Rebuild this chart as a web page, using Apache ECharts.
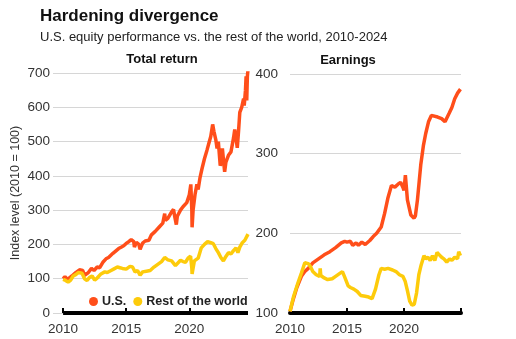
<!DOCTYPE html>
<html>
<head>
<meta charset="utf-8">
<script src="https://cdn.jsdelivr.net/npm/echarts@6/dist/echarts.min.js"></script>
<style>
html,body{margin:0;padding:0;background:#fff;}
#c{width:516px;height:339px;}
</style>
</head>
<body>
<div id="c"></div>
<script>
// ---- Data ----
const seriesNames = ['U.S.', 'Rest of the world'];
const xTickLabels = [2010, 2015, 2020];

// Total return, U.S.
const trUsYears = [2010.0,2010.15,2010.35,2010.5,2010.7,2011.0,2011.3,2011.55,2011.7,2011.8,2012.0,2012.25,2012.45,2012.7,2012.9,2013.15,2013.4,2013.6,2013.95,2014.1,2014.4,2014.6,2014.8,2015.0,2015.2,2015.4,2015.6,2015.65,2015.8,2016.0,2016.1,2016.3,2016.5,2016.8,2017.0,2017.3,2017.6,2017.9,2018.05,2018.1,2018.3,2018.6,2018.75,2018.85,2018.97,2019.05,2019.3,2019.5,2019.6,2019.8,2020.0,2020.12,2020.2,2020.22,2020.3,2020.45,2020.6,2020.7,2020.85,2021.0,2021.2,2021.4,2021.55,2021.7,2021.85,2021.95,2022.1,2022.2,2022.3,2022.45,2022.55,2022.62,2022.75,2022.8,2022.9,2023.0,2023.1,2023.3,2023.5,2023.6,2023.7,2023.8,2023.9,2024.0,2024.15,2024.3,2024.35,2024.45,2024.5,2024.55,2024.6,2024.65];
const trUsValues = [100,106,98,96,108,118,126,124,110,112,118,130,124,134,132,148,158,162,174,172,188,192,196,203,208,214,208,192,206,200,186,204,210,212,228,238,250,262,290,270,276,295,302,280,258,282,300,310,305,322,345,375,300,250,300,345,375,360,395,420,450,475,495,515,550,530,505,480,500,430,440,480,430,412,440,445,460,470,510,535,510,482,530,585,600,625,605,650,690,620,690,710];

// Total return, rest of the world
const trRowYears = [2010.0,2010.2,2010.4,2010.6,2010.8,2011.0,2011.2,2011.5,2011.7,2011.9,2012.1,2012.3,2012.5,2012.7,2013.0,2013.3,2013.5,2013.8,2014.0,2014.3,2014.5,2014.7,2015.0,2015.3,2015.5,2015.7,2015.9,2016.1,2016.3,2016.6,2016.9,2017.2,2017.5,2017.8,2018.05,2018.3,2018.6,2018.9,2019.0,2019.3,2019.5,2019.7,2019.9,2020.1,2020.2,2020.22,2020.4,2020.7,2020.95,2021.2,2021.45,2021.7,2021.9,2022.1,2022.3,2022.5,2022.7,2022.9,2023.1,2023.3,2023.5,2023.7,2023.85,2024.0,2024.2,2024.4,2024.5,2024.65];
const trRowValues = [98,95,90,96,108,112,118,116,100,95,104,108,96,102,114,120,118,124,128,134,132,130,128,136,134,120,124,110,120,122,124,134,142,150,162,155,152,138,140,154,150,148,160,166,130,114,152,160,190,200,208,205,202,188,176,162,152,165,176,172,182,190,176,192,205,212,208,230];

// Earnings, U.S.
const eaUsYears = [2010.0,2010.3,2010.6,2011.0,2011.3,2011.6,2012.0,2012.5,2013.0,2013.5,2014.0,2014.5,2014.8,2015.0,2015.3,2015.5,2015.8,2016.0,2016.3,2016.6,2017.0,2017.3,2017.6,2018.0,2018.3,2018.6,2018.9,2019.2,2019.5,2019.7,2019.9,2020.0,2020.12,2020.3,2020.6,2020.88,2021.0,2021.18,2021.47,2021.7,2021.9,2022.15,2022.4,2022.95,2023.3,2023.6,2023.97,2024.2,2024.45,2024.7,2024.95];
const eaUsValues = [102,118,132,146,152,156,163,168,173,177,182,188,190,189,190,185,188,185,189,186,191,196,200,208,225,245,260,258,262,264,258,254,273,242,223,219,222,242,286,310,325,340,348,346,344,340,351,358,369,376,381];

// Earnings, rest of the world
const eaRowYears = [2010.0,2010.3,2010.7,2011.0,2011.3,2011.6,2011.8,2012.0,2012.3,2012.6,2012.65,2012.7,2013.0,2013.3,2013.7,2014.0,2014.4,2014.6,2014.8,2015.1,2015.3,2015.6,2015.9,2016.2,2016.6,2016.9,2017.2,2017.5,2017.8,2018.0,2018.3,2018.6,2019.0,2019.3,2019.6,2019.9,2020.1,2020.3,2020.5,2020.7,2020.9,2021.1,2021.3,2021.5,2021.75,2021.9,2022.1,2022.3,2022.5,2022.7,2022.9,2023.1,2023.3,2023.5,2023.75,2024.0,2024.2,2024.45,2024.7,2024.8,2024.95];
const eaRowValues = [102,120,138,150,163,162,158,152,148,146,156,147,144,142,143,146,150,152,145,134,132,130,127,122,121,120,118,130,148,156,155,156,154,152,148,146,140,128,115,110,111,125,148,160,172,168,170,166,172,166,176,173,170,168,164,168,166,170,168,177,172];

// ---- Chart ----
const FONT = 'Liberation Sans, Arial, sans-serif';
const US_COLOR = '#ff4e1a';
const ROW_COLOR = '#fdcb0b';
const zip = (xs, ys) => xs.map((x, i) => [x, ys[i]]);

const chart = echarts.init(document.getElementById('c'), null, {renderer: 'canvas'});

const lineSeries = (name, color, xi, data, extra) => Object.assign({
  name: name, type: 'line', xAxisIndex: xi, yAxisIndex: xi,
  data: data, showSymbol: false, symbol: 'none',
  lineStyle: {color: color, width: 3.5}, itemStyle: {color: color},
  animation: false
}, extra || {});

chart.setOption({
  backgroundColor: '#fff',
  textStyle: {fontFamily: FONT},
  title: [
    {text: 'Hardening divergence', left: 40, top: 8, padding: 0,
     textStyle: {fontSize: 17, fontWeight: 'bold', color: '#111', fontFamily: FONT}},
    {text: 'U.S. equity performance vs. the rest of the world, 2010-2024', left: 40, top: 31, padding: 0,
     textStyle: {fontSize: 13, fontWeight: 'normal', color: '#222', fontFamily: FONT}}
  ],
  graphic: [
    {type: 'text', x: 162, y: 59, style: {text: 'Total return', textAlign: 'center', textVerticalAlign: 'middle', font: 'bold 13px ' + FONT, fill: '#111'}},
    {type: 'text', x: 348, y: 60, style: {text: 'Earnings', textAlign: 'center', textVerticalAlign: 'middle', font: 'bold 13px ' + FONT, fill: '#111'}}
  ],
  legend: {
    data: seriesNames, left: 89, top: 295, padding: 0,
    icon: 'circle', itemWidth: 9, itemHeight: 9, itemGap: 7,
    textStyle: {fontSize: 12.5, fontWeight: 'bold', color: '#222', fontFamily: FONT, padding: [0, 0, 0, -1]}
  },
  grid: [
    {left: 53, top: 73, width: 195, height: 240},
    {left: 290, top: 74, width: 171, height: 239}
  ],
  xAxis: [
    {type: 'value', gridIndex: 0, min: 2009.2, max: 2024.65,
     axisLine: {show: false}, splitLine: {show: false},
     axisTick: {show: true, inside: true, length: 5, customValues: xTickLabels, lineStyle: {color: '#000', width: 2}},
     axisLabel: {customValues: xTickLabels, fontSize: 13.5, color: '#333', margin: 9, fontFamily: FONT, formatter: v => String(v)}},
    {type: 'value', gridIndex: 1, min: 2010, max: 2025,
     axisLine: {show: true, onZero: false, lineStyle: {color: '#000', width: 4}}, splitLine: {show: false},
     axisTick: {show: true, inside: true, length: 5, customValues: [2010, 2015, 2020, 2025], lineStyle: {color: '#000', width: 2}},
     axisLabel: {customValues: xTickLabels, fontSize: 13.5, color: '#333', margin: 9, fontFamily: FONT, formatter: v => String(v)}}
  ],
  yAxis: [
    {type: 'value', gridIndex: 0, min: 0, max: 700, interval: 100,
     axisLine: {show: false}, axisTick: {show: false},
     splitLine: {lineStyle: {color: '#d6d6d6', width: 1}},
     axisLabel: {fontSize: 13.5, color: '#333', margin: 3, fontFamily: FONT},
     name: 'Index level (2010 = 100)', nameLocation: 'middle', nameGap: 31,
     nameTextStyle: {fontSize: 12.5, color: '#333', fontFamily: FONT}},
    {type: 'value', gridIndex: 1, min: 100, max: 400, interval: 100,
     axisLine: {show: false}, axisTick: {show: false},
     splitLine: {lineStyle: {color: '#d6d6d6', width: 1}},
     axisLabel: {fontSize: 13.5, color: '#333', margin: 12, fontFamily: FONT}}
  ],
  series: [
    lineSeries(seriesNames[0], US_COLOR, 0, zip(trUsYears, trUsValues), {
      markLine: {silent: true, symbol: 'none', animation: false, label: {show: false},
        lineStyle: {color: '#000', width: 4, type: 'solid'},
        data: [[{coord: [xTickLabels[0], 0]}, {coord: [2024.65, 0]}]]}
    }),
    lineSeries(seriesNames[1], ROW_COLOR, 0, zip(trRowYears, trRowValues)),
    lineSeries(seriesNames[0], US_COLOR, 1, zip(eaUsYears, eaUsValues)),
    lineSeries(seriesNames[1], ROW_COLOR, 1, zip(eaRowYears, eaRowValues))
  ]
});
</script>
</body>
</html>
